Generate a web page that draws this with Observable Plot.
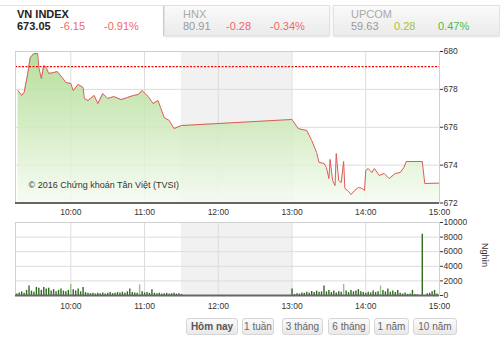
<!DOCTYPE html>
<html><head><meta charset="utf-8">
<script src="https://cdn.jsdelivr.net/npm/d3@7"></script>
<script src="https://cdn.jsdelivr.net/npm/@observablehq/plot@0.6"></script>
<style>
body{margin:0;background:#fff;font-family:"Liberation Sans",Arial,sans-serif;}
#wrap{position:relative;width:500px;height:337px;overflow:hidden;background:#fff;}
.tab{position:absolute;top:5px;height:31px;box-sizing:border-box;}
.tab.active{background:#fff;border-top:1px solid #e4e4e4;border-right:1px solid #d4d4d4;}
.tab.inactive{background:linear-gradient(#fafafa,#ebebeb);border:1px solid #e2e2e2;box-shadow:0 1px 2px rgba(0,0,0,0.12);}
.t{position:absolute;font-size:11px;white-space:nowrap;}
#c1{position:absolute;left:0;top:40px;}
#c2{position:absolute;left:0;top:215px;}
#unit{position:absolute;left:480px;top:243px;writing-mode:vertical-rl;font-size:9px;color:#333;}
#btns{position:absolute;left:0;top:318px;width:500px;height:17px;}
.btn{position:absolute;top:0;height:17px;box-sizing:border-box;border:1px solid #d6d6d6;border-radius:3px;background:linear-gradient(#fbfbfb,#e9e9e9);font-size:10px;color:#666;line-height:15px;text-align:center;white-space:nowrap;}
.btn.b{font-weight:bold;color:#555;}
</style></head><body><div id="wrap">
<div class="tab active" style="left:0;width:164px;"></div>
<div class="tab inactive" style="left:164px;width:166px;"></div>
<div class="tab inactive" style="left:333px;width:167px;"></div>
<div id="hdr"></div>
<div id="c1"></div>
<div id="c2"></div>
<div id="unit">Nghìn</div>
<div id="btns"></div>
</div>
<script>
// ---- data ----
const indexNames = ["VN INDEX", "HNX", "UPCOM"];
const indexLevels = ["673.05", "80.91", "59.63"];
const indexChanges = ["-6.15", "-0.28", "0.28"];
const indexPercents = ["-0.91%", "-0.34%", "0.47%"];

const priceTimes = ["9:17","9:20","9:22","9:25","9:27","9:30","9:33","9:34","9:36","9:38","9:40","9:42","9:46","9:49","9:53","9:56","10:00","10:02","10:06","10:10","10:11","10:14","10:16","10:19","10:22","10:26","10:30","10:35","10:41","10:46","10:51","10:55","10:58","11:03","11:07","11:11","11:13","11:16","11:20","11:24","11:28","11:30","13:00","13:05","13:12","13:16","13:20","13:22","13:26","13:28","13:30","13:31","13:33","13:35","13:36","13:38","13:40","13:42","13:43","13:46","13:48","13:51","13:54","13:57","13:59","14:00","14:02","14:05","14:07","14:11","14:15","14:19","14:24","14:28","14:31","14:33","14:46","14:48","15:00"];
const priceValues = [677.94,677.68,677.83,678.84,679.68,679.89,679.89,679.15,678.57,679.26,679.15,678.84,678.89,678.94,678.63,678.36,678.31,677.94,678.26,678.10,677.52,677.41,677.52,677.68,677.25,677.78,677.52,677.62,677.46,677.57,677.68,677.73,677.94,677.62,677.25,677.41,677.04,676.51,676.36,675.93,676.04,676.09,676.41,675.93,675.83,675.30,674.67,674.14,674.09,673.87,673.29,674.30,673.19,672.92,674.61,673.19,673.08,674.19,672.77,672.61,672.45,672.66,672.82,672.77,672.66,673.72,673.82,673.61,673.82,673.45,673.56,673.29,673.56,673.61,673.87,674.19,674.19,673.03,673.05];
const refValue = 679.20;

const volTimes = ["9:16","9:18","9:20","9:22","9:24","9:26","9:28","9:30","9:32","9:34","9:36","9:38","9:40","9:42","9:44","9:46","9:48","9:50","9:52","9:54","9:56","9:58","10:00","10:02","10:04","10:06","10:08","10:10","10:12","10:14","10:16","10:18","10:20","10:22","10:24","10:26","10:28","10:30","10:32","10:34","10:36","10:38","10:40","10:42","10:44","10:46","10:48","10:50","10:52","10:54","10:56","10:58","11:00","11:02","11:04","11:06","11:08","11:10","11:12","11:14","11:16","11:18","11:20","11:22","11:24","11:26","11:28","11:30",
"13:00","13:02","13:04","13:06","13:08","13:10","13:12","13:14","13:16","13:18","13:20","13:22","13:24","13:26","13:28","13:30","13:32","13:34","13:36","13:38","13:40","13:42","13:44","13:46","13:48","13:50","13:52","13:54","13:56","13:58","14:00","14:02","14:04","14:06","14:08","14:10","14:12","14:14","14:16","14:18","14:20","14:22","14:24","14:26","14:28","14:30","14:32","14:34","14:36","14:38","14:40","14:42","14:46","14:50","14:52","14:54","14:56","14:58"];
const volValues = [200,350,500,300,700,1300,600,450,1100,1000,700,1100,900,1000,600,800,500,700,900,600,500,700,1500,800,600,900,500,1100,400,300,250,300,200,300,250,350,200,300,400,250,300,400,350,450,300,500,900,400,350,300,1450,500,350,400,300,800,300,250,300,200,250,300,200,250,300,200,250,150,
900,150,250,200,350,300,450,300,550,400,600,450,500,1300,500,700,400,600,350,500,450,1500,600,400,700,500,600,800,500,400,300,450,350,600,400,500,1300,700,500,900,450,600,400,700,300,200,350,150,200,700,150,100,8400,250,300,500,700,200];
const lightVolTimes = ["10:00","10:56","13:42","14:12"];

const hourTicks = ["10:00","11:00","12:00","13:00","14:00","15:00"];
const sessionRange = ["9:15","15:00"];
const lunchBreak = ["11:30","13:00"];
const priceTicks = [672,674,676,678,680];
const volTicks = [0,2000,4000,6000,8000,10000];
const copyright = "© 2016 Chứng khoán Tân Việt (TVSI)";
const buttonLabels = ["Hôm nay","1 tuần","3 tháng","6 tháng","1 năm","10 năm"];

// ---- helpers ----
const toMin = s => { const [h, m] = s.split(":").map(Number); return h * 60 + m; };
const fmt = m => `${Math.floor(m / 60)}:${String(m % 60).padStart(2, "0")}`;
const xDomain = sessionRange.map(toMin);
const xTicks = hourTicks.map(toMin);
const lunch = [{x1: toMin(lunchBreak[0]), x2: toMin(lunchBreak[1])}];
const price = priceTimes.map((t, i) => ({t: toMin(t), v: priceValues[i]}));
const lightSet = new Set(lightVolTimes);
const vol = volTimes.map((t, i) => ({t: toMin(t), v: volValues[i], light: lightSet.has(t)}));

// ---- header ----
const hdr = document.getElementById("hdr");
const tabX = [17, 183, 351];
const lvlColor = ["#222", "#999", "#999"];
const nameColor = ["#222", "#aaa", "#aaa"];
const chgColor = ["#f26666", "#f26666", "#a6c23a"];
const pctColor = ["#f26666", "#f26666", "#4cbb3c"];
indexNames.forEach((n, i) => {
  const x = tabX[i];
  const add = (txt, left, top, color, bold) => {
    const d = document.createElement("div");
    d.className = "t"; d.textContent = txt;
    d.style.left = left + "px"; d.style.top = top + "px"; d.style.color = color;
    if (bold) d.style.fontWeight = "bold";
    hdr.appendChild(d);
  };
  add(n, x, 8, nameColor[i], i === 0);
  add(indexLevels[i], x, 20, lvlColor[i], i === 0);
  add(indexChanges[i], x + 43, 20, chgColor[i], false);
  add(indexPercents[i], x + 87, 20, pctColor[i], false);
});

// ---- price chart ----
const defs = () => {
  const d = d3.create("svg:defs");
  const g = d.append("linearGradient").attr("id", "pg").attr("x1", 0).attr("x2", 0).attr("y1", 0).attr("y2", 1);
  g.append("stop").attr("offset", "0%").attr("stop-color", "#a9d98b");
  g.append("stop").attr("offset", "55%").attr("stop-color", "#d3ecc2");
  g.append("stop").attr("offset", "100%").attr("stop-color", "#f6fbf2");
  return d.node();
};
const common = {
  width: 500,
  marginLeft: 15,
  marginRight: 61,
  style: {fontSize: "8.5px", fontFamily: "Liberation Sans, Arial, sans-serif", color: "#333", background: "transparent", overflow: "visible"}
};
const c1 = Plot.plot({
  ...common,
  height: 180, marginTop: 11, marginBottom: 17.5,
  x: {domain: xDomain, ticks: xTicks, tickFormat: fmt, tickSize: 0, tickPadding: 6, label: null},
  y: {domain: [672, 680], ticks: priceTicks, axis: "right", tickSize: 3, tickPadding: 1, label: null},
  marks: [
    defs,
    Plot.rect(lunch, {x1: "x1", x2: "x2", fill: "#f1f1f1"}),
    Plot.ruleX(xTicks, {stroke: "#dcdcdc"}),
    Plot.ruleY(priceTicks, {stroke: "#dcdcdc"}),
    Plot.areaY(price, {x: "t", y1: 672, y2: "v", fill: "url(#pg)", fillOpacity: 0.85}),
    Plot.lineY(price, {x: "t", y: "v", stroke: "#dd5a5a", strokeWidth: 1}),
    Plot.ruleY([refValue], {stroke: "#ff0000", strokeWidth: 1.2, strokeDasharray: "2,1.5"}),
    Plot.frame({stroke: "#d0d0d0"}),
    Plot.ruleY([672], {stroke: "#666", strokeWidth: 2}),
    Plot.text([copyright], {frameAnchor: "bottom-left", dx: 13, dy: -15, textAnchor: "start", fontSize: 9, fill: "#333"})
  ]
});
document.getElementById("c1").appendChild(c1);

// ---- volume chart ----
const c2 = Plot.plot({
  ...common,
  height: 100, marginTop: 7, marginBottom: 20,
  x: {domain: xDomain, ticks: xTicks, tickFormat: fmt, tickSize: 0, tickPadding: 7, label: null},
  y: {domain: [0, 10000], ticks: volTicks, axis: "right", tickSize: 3, tickPadding: 1, label: null, tickFormat: d => String(d)},
  marks: [
    Plot.rect(lunch, {x1: "x1", x2: "x2", fill: "#f1f1f1"}),
    Plot.ruleX(xTicks, {stroke: "#dcdcdc"}),
    Plot.ruleY(volTicks, {stroke: "#dcdcdc"}),
    Plot.ruleX(vol.filter(d => !d.light), {x: "t", y1: 0, y2: "v", stroke: "#2e6b1f", strokeWidth: 1.4}),
    Plot.ruleX(vol.filter(d => d.light), {x: "t", y1: 0, y2: "v", stroke: "#93c285", strokeWidth: 1.4}),
    Plot.frame({stroke: "#d0d0d0"}),
    Plot.ruleY([0], {stroke: "#666", strokeWidth: 2})
  ]
});
document.getElementById("c2").appendChild(c2);

// ---- buttons ----
const btns = document.getElementById("btns");
const btnLeft = [186, 242, 282, 328, 374, 413];
const btnWidth = [52, 32, 41, 42, 35, 44];
buttonLabels.forEach((b, i) => {
  const d = document.createElement("div");
  d.className = "btn" + (i === 0 ? " b" : "");
  d.textContent = b;
  d.style.left = btnLeft[i] + "px";
  d.style.width = btnWidth[i] + "px";
  btns.appendChild(d);
});
</script>
</body></html>
